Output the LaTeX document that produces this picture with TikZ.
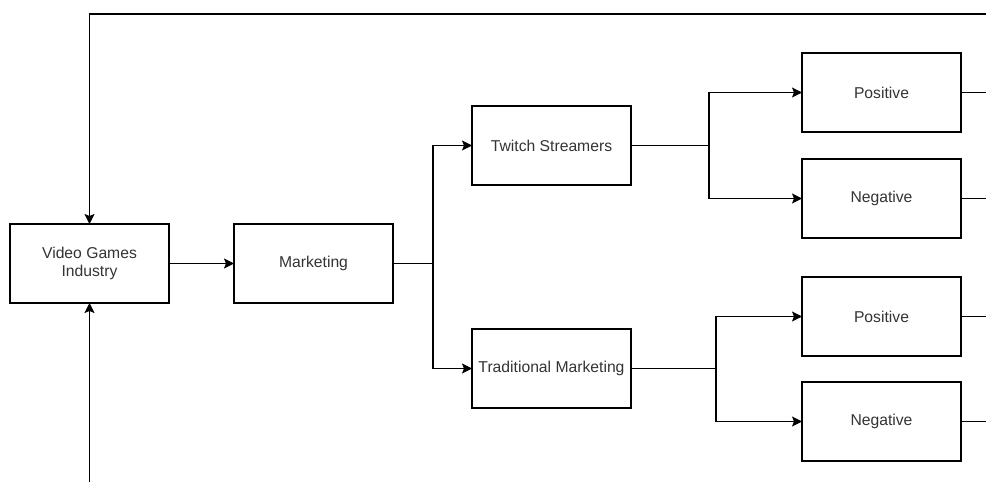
\documentclass[tikz,border=0pt]{standalone}
\usepackage{fontspec}
\setmainfont{Liberation Sans}
\usepackage{tikz}
\usetikzlibrary{positioning, arrows.meta}

\definecolor{txtgrey}{HTML}{333333}

\tikzset{
	box/.style={draw, rectangle, line width=1.3pt, minimum width=159pt, minimum height=79pt,
		inner sep=0pt, outer sep=0pt, align=center, text=txtgrey, font=\fontsize{15.7}{18.5}\selectfont},
	link/.style={line width=1.3pt, -{Stealth[length=10pt, width=10pt, inset=2pt]}},
	stub/.style={line width=1.3pt}
}

\begin{document}
\begin{tikzpicture}[x=1pt, y=-1pt]
	\useasboundingbox (0,0) rectangle (986,482);
	\node[box] (vgi) at (89.5,263.5) {Video Games\\Industry};
	\node[box, right = 65pt of vgi] (mkt) {Marketing};
	\node[box, above right = 39pt and 79pt of mkt] (twitch) {Twitch Streamers};
	\node[box, below right = 26pt and 79pt of mkt] (trad) {Traditional Marketing};
	\node[box, right = 171pt of twitch, yshift=53pt] (pos1) {Positive};
	\node[box, below = 27pt of pos1] (neg1) {Negative};
	\node[box, right = 171pt of trad, yshift=52pt] (pos2) {Positive};
	\node[box, below = 26pt of pos2] (neg2) {Negative};
	% branch points and loose ends
	\coordinate (mktfork) at ([xshift=40pt]mkt.east);
	\coordinate (twfork) at ([xshift=78pt]twitch.east);
	\coordinate (trfork) at ([xshift=85pt]trad.east);
	\coordinate (topright) at (986,14);
	\coordinate (bottom) at (89.5,482);
	\draw[link] (vgi) -- (mkt);
	\draw[link] (mkt.east) -- (mktfork) |- (twitch.west);
	\draw[link] (mktfork) |- (trad.west);
	\draw[link] (twitch.east) -- (twfork) |- (pos1.west);
	\draw[link] (twfork) |- (neg1.west);
	\draw[link] (trad.east) -- (trfork) |- (pos2.west);
	\draw[link] (trfork) |- (neg2.west);
	\foreach \n in {pos1, neg1, pos2, neg2}
		\draw[stub] (\n.east) -- ++(30pt,0);
	\draw[link] (topright) -| (vgi.north);
	\draw[link] (bottom) -- (vgi.south);
\end{tikzpicture}
\end{document}
